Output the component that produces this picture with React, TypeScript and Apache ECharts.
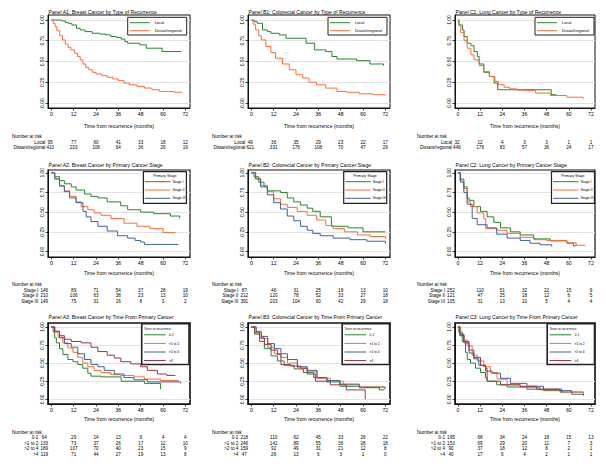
import React, { useEffect, useRef } from 'react';
import * as echarts from 'echarts';

// ---------- tick labels ----------
const monthTicks = [0, 12, 24, 36, 48, 60, 72];
const survivalTicks = [0, 0.25, 0.5, 0.75, 1];
const xAxisTitle = 'Time from recurrence (months)';
const riskHeader = 'Number at risk';

// ---------- titles & groups ----------
const panelTitles = [
  'Panel A1: Breast Cancer by Type of Recurrence',
  'Panel B1: Colorectal Cancer by Type of Recurrence',
  'Panel C1: Lung Cancer by Type of Recurrence',
  'Panel A2: Breast Cancer by Primary Cancer Stage',
  'Panel B2: Colorectal Cancer by Primary Cancer Stage',
  'Panel C2: Lung Cancer by Primary Cancer Stage',
  'Panel A3: Breast Cancer by Time From Primary Cancer',
  'Panel B3: Colorectal Cancer by Time From Primary Cancer',
  'Panel C3: Lung Cancer by Time From Primary Cancer',
];
const recurrenceGroups = ['Local', 'Distant/regional'];
const stageGroups = ['Stage I', 'Stage II', 'Stage III'];
const yearsGroups = ['0-1', '>1 to 2', '>2 to 4', '>4'];
const legendTitles = ['', 'Primary Stage', 'Years to recurrence'];

// ---------- survival curves [month, survival] ----------
const a1Local = [[0,1],[5.5,0.99],[7.5,0.97],[9,0.96],[11,0.94],[13.5,0.9],[15.5,0.88],[18,0.86],[22,0.84],[26,0.83],[29,0.82],[32,0.8],[35,0.79],[37.5,0.77],[39.5,0.74],[41,0.72],[47.5,0.7],[51,0.66],[59.5,0.62],[70,0.62]];
const a1Distant = [[0,1],[1,0.96],[2,0.92],[3,0.87],[4.5,0.81],[6,0.76],[7.5,0.71],[9,0.67],[10.5,0.64],[12.5,0.6],[14,0.56],[15.5,0.52],[17,0.47],[18.5,0.43],[20,0.4],[22,0.37],[24,0.35],[27,0.33],[30,0.31],[33,0.29],[36,0.27],[39,0.24],[42,0.22],[46,0.2],[50,0.18],[54,0.16],[58,0.14],[63,0.14],[66,0.13],[70,0.12]];
const b1Local = [[0,1],[1.4,0.98],[3.2,0.96],[6,0.88],[8.7,0.86],[10.5,0.84],[15,0.82],[18.6,0.78],[29.4,0.72],[34,0.64],[40,0.62],[43.3,0.56],[46,0.53],[56.5,0.51],[63.7,0.47],[71,0.45]];
const b1Distant = [[0,1],[1,0.95],[2.3,0.88],[4,0.81],[5.4,0.76],[7.8,0.68],[10.5,0.61],[13,0.54],[16.8,0.47],[20.4,0.4],[24,0.34],[27.6,0.3],[31,0.25],[35,0.22],[40,0.18],[46,0.14],[51,0.13],[58,0.11],[65.5,0.1],[72,0.09]];
const c1Local = [[0,1],[0.5,0.94],[2.4,0.88],[3.3,0.8],[5,0.72],[7,0.69],[8.7,0.62],[10.5,0.56],[11.5,0.47],[14,0.37],[17,0.32],[19.6,0.24],[21.5,0.16],[50.5,0.1],[53.3,0.1]];
const c1Distant = [[0,1],[0.7,0.93],[1.5,0.85],[3.3,0.75],[5,0.66],[7,0.58],[8.7,0.52],[11.5,0.45],[14,0.38],[17,0.32],[20,0.26],[22,0.22],[25,0.19],[28,0.17],[32,0.155],[35,0.15],[42,0.12],[50,0.09],[59,0.07],[67.8,0.05]];

const a2Stage1 = [[0,1],[1.8,0.95],[4.4,0.9],[7,0.86],[10.7,0.82],[13.3,0.78],[17.8,0.73],[21.3,0.7],[25,0.68],[30,0.63],[37.3,0.58],[41,0.53],[48,0.5],[55,0.48],[64,0.45],[69,0.42]];
const a2Stage2 = [[0,1],[1.8,0.93],[4.4,0.84],[7,0.77],[9.8,0.7],[13.3,0.63],[16,0.57],[19.6,0.53],[23,0.49],[26.7,0.46],[32,0.42],[39,0.36],[46,0.32],[53,0.29],[60,0.24],[66.7,0.24]];
const a2Stage3 = [[0,1],[1.8,0.92],[4.4,0.83],[7,0.76],[9.8,0.68],[13.3,0.62],[17,0.51],[18.7,0.44],[21.3,0.38],[25,0.32],[30,0.26],[35.5,0.2],[41,0.17],[45,0.14],[48,0.12],[50,0.09],[68,0.08]];
const b2Stage1 = [[0,1],[1.4,0.95],[4,0.88],[6.8,0.83],[8.6,0.77],[15.7,0.75],[19.3,0.68],[22.8,0.63],[26.4,0.59],[30,0.55],[33,0.51],[37,0.44],[43,0.32],[52,0.3],[60,0.25],[72,0.25]];
const b2Stage2 = [[0,1],[2.3,0.93],[5,0.84],[8.6,0.76],[12,0.67],[15.7,0.6],[19.3,0.56],[24.6,0.51],[30,0.46],[35,0.4],[40,0.33],[44,0.29],[50,0.25],[57,0.21],[64,0.19],[72,0.16]];
const b2Stage3 = [[0,1],[2.3,0.92],[5,0.82],[8.6,0.72],[12,0.62],[15.7,0.54],[19.3,0.45],[22.8,0.39],[26.4,0.32],[30,0.27],[33,0.23],[37,0.2],[44,0.17],[53,0.15],[62,0.13],[72,0.1]];
const c2Stage1 = [[0,1],[1.4,0.92],[3.2,0.82],[5,0.68],[6,0.65],[8.6,0.57],[12.2,0.51],[15.8,0.44],[19.4,0.37],[23,0.3],[28.4,0.25],[33.7,0.21],[41,0.16],[50,0.135],[59,0.105],[62.5,0.07],[64,0.07]];
const c2Stage2 = [[0,1],[1,0.9],[3,0.8],[5,0.63],[6.8,0.57],[10.4,0.49],[14,0.42],[15,0.29],[21,0.27],[26.6,0.23],[33.7,0.18],[41,0.15],[48,0.14],[59,0.11],[64,0.08],[68.8,0.07]];
const c2Stage3 = [[0,1],[1.4,0.88],[3.2,0.75],[5,0.6],[7.7,0.42],[10.4,0.34],[15.8,0.3],[21,0.22],[26.6,0.17],[33.7,0.14],[39,0.105],[44.5,0.085],[50.8,0.063]];

const a3Years01 = [[0,1],[1,0.93],[1.8,0.85],[2.7,0.78],[4.4,0.7],[6.2,0.62],[8.9,0.55],[11.6,0.52],[14.2,0.48],[16.9,0.43],[19.6,0.36],[21.3,0.32],[26.7,0.31],[37.5,0.25],[50,0.22],[58.7,0.14]];
const a3Years12 = [[0,1],[1.8,0.93],[3.6,0.86],[6.2,0.78],[8.9,0.71],[11.6,0.65],[14.2,0.58],[16.9,0.5],[19.6,0.45],[23,0.4],[26.7,0.37],[32,0.34],[37,0.33],[44.4,0.31],[50,0.28],[58.7,0.26],[68.4,0.26]];
const a3Years24 = [[0,1],[1.8,0.94],[4.4,0.85],[7,0.77],[10.7,0.72],[14.2,0.63],[17.8,0.55],[21.3,0.48],[25,0.45],[28.4,0.4],[33.8,0.35],[39,0.3],[44.4,0.27],[51.6,0.24],[69.5,0.22]];
const a3Years4 = [[0,1],[1.8,0.94],[4.4,0.88],[7,0.83],[10.7,0.8],[16,0.78],[21.3,0.72],[25,0.66],[30,0.61],[33.8,0.57],[37.3,0.52],[42.7,0.49],[48,0.45],[51.6,0.4],[57,0.35],[62,0.33],[66.7,0.33]];
const b3Years01 = [[0,1],[1.8,0.9],[4.4,0.8],[7,0.7],[10.6,0.6],[14,0.53],[17.6,0.47],[23,0.42],[28,0.37],[33.5,0.3],[40.6,0.24],[47.6,0.18],[58,0.17],[71.5,0.15]];
const b3Years12 = [[0,1],[2.6,0.92],[5.3,0.84],[8.8,0.72],[12.4,0.63],[15.9,0.58],[19.4,0.5],[24.7,0.43],[30,0.38],[35.3,0.29],[42.4,0.25],[49.4,0.2],[58.2,0.17],[72,0.14]];
const b3Years24 = [[0,1],[2.6,0.94],[5.3,0.87],[8.8,0.77],[12.4,0.7],[15.9,0.63],[19.4,0.55],[24.7,0.45],[30,0.4],[35.3,0.3],[40.6,0.26],[47.6,0.21],[58,0.16],[68.8,0.13],[71.5,0.13]];
const b3Years4 = [[0,1],[1.8,0.92],[4.4,0.85],[7,0.76],[10.6,0.68],[14,0.62],[15.9,0.48],[21,0.46],[26.5,0.43],[30,0.35],[34.4,0.25],[42.4,0.2],[51,0.13],[61.2,0]];
const c3Years01 = [[0,1],[0.5,0.93],[2.3,0.8],[4.1,0.65],[5,0.55],[6.8,0.5],[9.5,0.43],[12.2,0.37],[14.9,0.3],[15.8,0.25],[21,0.2],[26.6,0.17],[37.3,0.14],[46.3,0.12],[55.3,0.1],[67.9,0.08]];
const c3Years12 = [[0,1],[1.4,0.9],[3.2,0.82],[5,0.74],[7.7,0.61],[10.4,0.53],[14,0.45],[17.6,0.37],[21.2,0.28],[26.6,0.2],[33.7,0.165],[44.5,0.13],[55.3,0.1],[67.9,0.06]];
const c3Years24 = [[0,1],[1,0.9],[3.2,0.8],[6,0.64],[8.6,0.56],[11.3,0.47],[14.9,0.39],[18.5,0.36],[23,0.29],[28.4,0.22],[37.3,0.18],[46.3,0.14],[55.3,0.12],[61.6,0.07],[67.9,0.05]];
const c3Years4 = [[0,1],[1,0.88],[3.2,0.78],[6,0.68],[8.6,0.58],[12.2,0.47],[14.9,0.43],[15.8,0.25],[23,0.2],[33.7,0.18],[42.7,0.14],[56.2,0.1]];

// ---------- number at risk (at 0,12,...,72 months) ----------
const a1RiskLocal = [95, 77, 60, 41, 33, 18, 12];
const a1RiskDistant = [410, 203, 108, 64, 36, 26, 19];
const b1RiskLocal = [49, 36, 35, 29, 23, 22, 17];
const b1RiskDistant = [621, 331, 176, 108, 70, 47, 29];
const c1RiskLocal = [32, 12, 4, 3, 3, 1, 1];
const c1RiskDistant = [446, 176, 83, 57, 36, 24, 17];
const a2RiskStage1 = [146, 89, 71, 54, 37, 28, 19];
const a2RiskStage2 = [210, 106, 63, 38, 23, 13, 10];
const a2RiskStage3 = [149, 75, 31, 16, 8, 3, 2];
const b2RiskStage1 = [87, 46, 31, 25, 18, 13, 10];
const b2RiskStage2 = [212, 120, 78, 52, 33, 27, 18];
const b2RiskStage3 = [391, 203, 104, 60, 42, 29, 18];
const c2RiskStage1 = [252, 110, 51, 32, 22, 15, 9];
const c2RiskStage2 = [121, 47, 25, 18, 12, 6, 5];
const c2RiskStage3 = [105, 31, 13, 10, 5, 4, 4];
const a3Risk01 = [64, 29, 14, 13, 9, 4, 4];
const a3Risk12 = [133, 73, 37, 26, 17, 12, 10];
const a3Risk24 = [189, 107, 70, 40, 23, 15, 9];
const a3Risk4 = [119, 71, 44, 27, 19, 13, 8];
const b3Risk01 = [218, 110, 62, 45, 33, 26, 22];
const b3Risk12 = [246, 141, 89, 55, 36, 28, 18];
const b3Risk24 = [159, 92, 49, 31, 21, 12, 8];
const b3Risk4 = [47, 26, 13, 6, 3, 1, 0];
const c3Risk01 = [195, 68, 34, 24, 18, 15, 13];
const c3Risk12 = [153, 69, 29, 20, 11, 7, 3];
const c3Risk24 = [90, 37, 18, 12, 8, 2, 1];
const c3Risk4 = [40, 17, 6, 4, 2, 1, 1];

// ---------- styling ----------
const GREEN = '#23892a';
const ORANGE = '#ff6b36';
const BLUE = '#3d62a0';
const MAROON = '#a0344a';
const FONT = '"Liberation Sans", Arial, Helvetica, sans-serif';

const panels = [
  { groups: recurrenceGroups, curves: [a1Local, a1Distant], risk: [a1RiskLocal, a1RiskDistant], colors: [GREEN, ORANGE] },
  { groups: recurrenceGroups, curves: [b1Local, b1Distant], risk: [b1RiskLocal, b1RiskDistant], colors: [GREEN, ORANGE] },
  { groups: recurrenceGroups, curves: [c1Local, c1Distant], risk: [c1RiskLocal, c1RiskDistant], colors: [GREEN, ORANGE] },
  { groups: stageGroups, curves: [a2Stage1, a2Stage2, a2Stage3], risk: [a2RiskStage1, a2RiskStage2, a2RiskStage3], colors: [GREEN, ORANGE, BLUE] },
  { groups: stageGroups, curves: [b2Stage1, b2Stage2, b2Stage3], risk: [b2RiskStage1, b2RiskStage2, b2RiskStage3], colors: [GREEN, ORANGE, BLUE] },
  { groups: stageGroups, curves: [c2Stage1, c2Stage2, c2Stage3], risk: [c2RiskStage1, c2RiskStage2, c2RiskStage3], colors: [GREEN, ORANGE, BLUE] },
  { groups: yearsGroups, curves: [a3Years01, a3Years12, a3Years24, a3Years4], risk: [a3Risk01, a3Risk12, a3Risk24, a3Risk4], colors: [GREEN, ORANGE, BLUE, MAROON] },
  { groups: yearsGroups, curves: [b3Years01, b3Years12, b3Years24, b3Years4], risk: [b3Risk01, b3Risk12, b3Risk24, b3Risk4], colors: [GREEN, ORANGE, BLUE, MAROON] },
  { groups: yearsGroups, curves: [c3Years01, c3Years12, c3Years24, c3Years4], risk: [c3Risk01, c3Risk12, c3Risk24, c3Risk4], colors: [GREEN, ORANGE, BLUE, MAROON] },
];

// layout
const COLS = [
  { left: 48, width: 142, min: -1.8, max: 74.5, headerX: 12 },
  { left: 248, width: 142, min: -1.8, max: 74.5, headerX: 212 },
  { left: 455, width: 140, min: -1.6, max: 74.2, headerX: 417 },
];
const ROWS = [
  { top: 15, height: 93, min: -0.06, max: 1.06, frame: 1, titleY: 12, nameGap: 15.4,
    headerY: 136, rowYs: [142, 147], firstShift: -1, labelGap: 6,
    lg: { w: 59, h: 17.7, dy: 2.3, inset: [3.3, 3, 1], itemY: [5.4, 13.4], lx: [2, 22], tx: 27, titleDy: 0, titleCenter: false, bw: 1, font: 3.9, titleFont: 3.9 } },
  { top: 170, height: 87, min: -0.07, max: 1.035, frame: 1.2, titleY: 165, nameGap: 13,
    headerY: 284.3, rowYs: [290, 295.7, 301], firstShift: -7, labelGap: 13,
    lg: { w: 43, h: 31.6, dy: 1.7, inset: [3.6, 3.3, 0.5], itemY: [10, 18.3, 26.6], lx: [1.5, 27], tx: 29, titleDy: 4.2, titleCenter: true, bw: 1.2, font: 3.5, titleFont: 3.7 } },
  { top: 323, height: 81, min: -0.065, max: 1.055, frame: 1.6, titleY: 317.3, nameGap: 12,
    headerY: 432.3, rowYs: [437.6, 443.2, 448.8, 454.4], firstShift: -7, labelGap: 13,
    lg: { w: 47.3, h: 40.7, dy: 0.8, inset: [1, 0.5, 0.5], itemY: [11, 19.6, 28.2, 36.7], lx: [2.3, 24], tx: 27.3, titleDy: 5, titleCenter: false, bw: 1.6, font: 3.3, titleFont: 3.1 } },
];

export default function App() {
  const ref = useRef<HTMLDivElement>(null);
  useEffect(() => {
    const chart = echarts.init(ref.current as HTMLDivElement, null, { renderer: 'svg', width: 606, height: 467 });
    const grid: any[] = [];
    const xAxis: any[] = [];
    const yAxis: any[] = [];
    const series: any[] = [];
    panels.forEach((p, i) => {
      const row = Math.floor(i / 3);
      const col = i % 3;
      const C = COLS[col];
      const R = ROWS[row];
      grid.push({ left: C.left, top: R.top, width: C.width, height: R.height, show: true,
        borderColor: '#111', borderWidth: R.frame, backgroundColor: '#fff' });
      xAxis.push({
        type: 'value', gridIndex: i, min: C.min, max: C.max,
        name: xAxisTitle, nameLocation: 'middle', nameGap: R.nameGap,
        nameTextStyle: { fontSize: 5.1, fontFamily: FONT, color: '#000' },
        axisLine: { show: true, onZero: false, lineStyle: { color: '#111', width: 1 } },
        axisTick: { show: true, length: 2.5, customValues: monthTicks, lineStyle: { color: '#111', width: 0.8 } },
        axisLabel: { customValues: monthTicks, fontSize: 5.1, fontFamily: FONT, color: '#000', margin: 3 },
        splitLine: { show: false },
      });
      yAxis.push({
        type: 'value', gridIndex: i, min: R.min, max: R.max,
        axisLine: { show: true, onZero: false, lineStyle: { color: '#111', width: 1 } },
        axisTick: { show: true, length: 2.5, customValues: survivalTicks, lineStyle: { color: '#111', width: 0.8 } },
        axisLabel: { customValues: survivalTicks, rotate: 90, fontSize: 5, fontFamily: FONT, color: '#000', margin: 4,
          formatter: (v: number) => v.toFixed(2) },
        splitLine: { show: true, lineStyle: { color: '#e3e3e3', width: 1 } },
      });
      p.curves.forEach((data, k) => {
        series.push({
          type: 'line', name: p.groups[k], xAxisIndex: i, yAxisIndex: i, data,
          step: 'end', symbol: 'none', showSymbol: false, silent: true,
          lineStyle: { color: p.colors[k], width: 1 }, itemStyle: { color: p.colors[k] },
        });
      });
    });
    chart.setOption({ animation: false, backgroundColor: '#fff', grid, xAxis, yAxis, series });

    const graphic: any[] = [];
    const txt = (text: string, x: number, y: number, size: number, align = 'left', z = 100) => ({
      type: 'text', z, silent: true,
      style: { text, x, y, fill: '#000', fontSize: size, fontFamily: FONT, align, verticalAlign: 'middle' },
    });
    panels.forEach((p, i) => {
      const row = Math.floor(i / 3);
      const col = i % 3;
      const C = COLS[col];
      const R = ROWS[row];
      // title
      graphic.push(txt(panelTitles[i], C.left + 0.5, R.titleY, 5.1));
      // legend box
      const L = R.lg;
      const bx = C.left + C.width - L.inset[col] - L.w;
      const by = R.top + L.dy;
      graphic.push({ type: 'rect', z: 100, silent: true, shape: { x: bx, y: by, width: L.w, height: L.h },
        style: { fill: '#fff', stroke: '#222', lineWidth: L.bw } });
      if (legendTitles[row]) {
        graphic.push(txt(legendTitles[row], L.titleCenter ? bx + L.w / 2 : bx + L.lx[0], by + L.titleDy, L.titleFont, L.titleCenter ? 'center' : 'left', 101));
      }
      p.groups.forEach((g, k) => {
        const yy = by + L.itemY[k];
        graphic.push({ type: 'line', z: 101, silent: true, shape: { x1: bx + L.lx[0], y1: yy, x2: bx + L.lx[1], y2: yy },
          style: { stroke: p.colors[k], lineWidth: 1 } });
        graphic.push(txt(g, bx + L.tx, yy, L.font, 'left', 101));
      });
      // risk table
      graphic.push(txt(riskHeader, C.headerX, R.headerY, 4.6));
      const x0 = chart.convertToPixel({ xAxisIndex: i }, monthTicks[0]) as number;
      p.risk.forEach((vals, k) => {
        const yy = R.rowYs[k];
        graphic.push(txt(p.groups[k], x0 - R.labelGap, yy, 4.6, 'right'));
        vals.forEach((v, j) => {
          const px = chart.convertToPixel({ xAxisIndex: i }, monthTicks[j]) as number;
          graphic.push(txt(String(v), j === 0 ? px + R.firstShift : px, yy, 4.6, 'center'));
        });
      });
    });
    chart.setOption({ graphic });
    return () => chart.dispose();
  }, []);
  return <div ref={ref} style={{ position: 'fixed', left: 0, top: 0, width: 606, height: 467, background: '#fff' }} />;
}
